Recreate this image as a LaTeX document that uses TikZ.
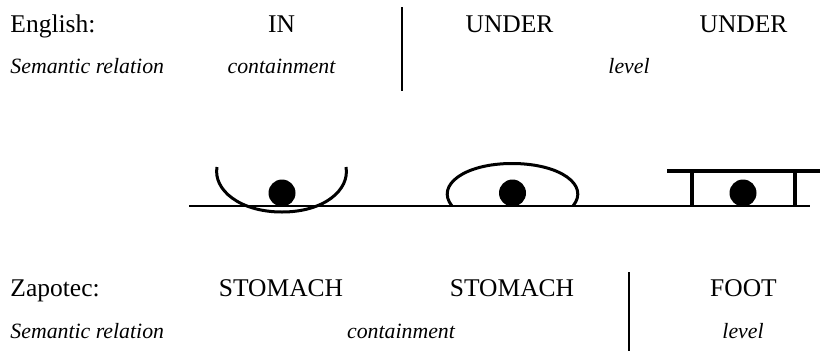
\documentclass[tikz,border=0pt]{standalone}
\usepackage{fontspec}
\setmainfont{Liberation Serif}
\tikzset{
  head/.style={inner sep=0,anchor=base,font=\fontsize{25.5}{28}\selectfont},
  rel/.style={inner sep=0,anchor=base,font=\fontsize{21.8}{24}\selectfont\itshape},
  shape line/.style={line width=3pt},
  bar line/.style={line width=3.4pt},
  figure dot/.style={circle,fill=black,inner sep=0,minimum size=27pt}
}
\begin{document}
\begin{tikzpicture}[x=1pt,y=-1pt,line width=1.9pt]
\useasboundingbox (0,0) rectangle (826,351);
% ---------- top rows ----------
\node[head,anchor=base west] (eng) at (9.5,32) {English:};
\node[head] (engin) at (281.5,32) {IN};
\node[head] (engunderA) at (509.5,32) {UNDER};
\node[head] (engunderB) at (743.5,32) {UNDER};
\node[rel,anchor=base west] (engrel) at (9.5,73) {Semantic relation};
\node[rel] (engcont) at (281.5,73) {containment};
\node[rel] (englevel) at (629,73) {level};
\draw (402,7) -- (402,91);
% ---------- ground and figures ----------
\draw (189,206) -- (810,206);
\draw[shape line] (217,167) .. controls (213,190) and (240,212) .. (282,212) .. controls (324,212) and (350,190) .. (346,167);
\draw[shape line] (452,206) .. controls (435,185) and (465,163.5) .. (512,163.5) .. controls (560,163.5) and (590,185) .. (573,206);
\draw[bar line] (667,171) -- (820,171);
\draw[bar line] (692,171) -- (692,206) (795,171) -- (795,206);
\node[figure dot] (dotA) at (282,193) {};
\node[figure dot] (dotB) at (512.5,193) {};
\node[figure dot] (dotC) at (743,193) {};
% ---------- bottom rows ----------
\node[head,anchor=base west] (zap) at (9.5,296) {Zapotec:};
\node[head] (zapstomA) at (281,296) {STOMACH};
\node[head] (zapstomB) at (512,296) {STOMACH};
\node[head] (zapfoot) at (743.5,296) {FOOT};
\node[rel,anchor=base west] (zaprel) at (9.5,338) {Semantic relation};
\node[rel] (zapcont) at (401,338) {containment};
\node[rel] (zaplevel) at (743,338) {level};
\draw (629,272) -- (629,351);
\end{tikzpicture}
\end{document}
